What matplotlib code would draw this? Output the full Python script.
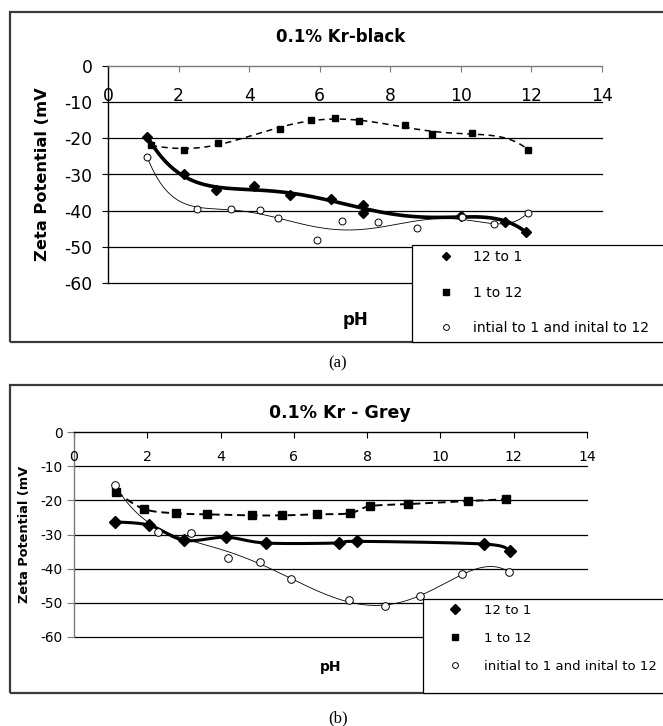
import numpy as np
import matplotlib
matplotlib.use("Agg")
import matplotlib.pyplot as plt
from matplotlib.lines import Line2D
from matplotlib.patches import Rectangle

plt.rcParams['font.family'] = ['DejaVu Sans']
plt.rcParams['axes.unicode_minus'] = False

# ---------------- data ----------------
x_ticks = [0, 2, 4, 6, 8, 10, 12, 14]
y_ticks = [0, -10, -20, -30, -40, -50, -60]

title_a = "0.1% Kr-black"
title_b = "0.1% Kr - Grey"
ylabel = "Zeta Potential (mV"
xlabel = "pH"
labels_a = ["12 to 1", "1 to 12", "intial to 1 and inital to 12"]
labels_b = ["12 to 1", "1 to 12", "initial to 1 and inital to 12"]

a_12to1_ph = [1.11, 2.15, 3.07, 4.15, 5.17, 6.32, 7.22, 7.22, 10.0, 11.25, 11.86]
a_12to1_zeta = [-19.5, -30.0, -34.4, -33.3, -35.7, -36.9, -38.3, -40.6, -41.6, -43.0, -46.0]

a_1to12_ph = [1.22, 2.15, 3.12, 4.87, 5.74, 6.44, 7.10, 8.42, 9.19, 10.32, 11.91]
a_1to12_zeta = [-21.9, -23.2, -21.2, -17.5, -14.9, -14.5, -15.2, -16.4, -18.7, -18.6, -23.2]

a_init_ph = [1.11, 2.52, 3.49, 4.31, 4.83, 5.92, 6.62, 7.64, 8.75, 10.03, 10.95, 11.91]
a_init_zeta = [-25.1, -39.5, -39.5, -39.8, -42.1, -48.1, -42.9, -43.2, -44.7, -41.8, -43.6, -40.6]

b_12to1_ph = [1.12, 2.06, 3.01, 4.15, 5.24, 7.23, 7.73, 11.2, 11.89]
b_12to1_zeta = [-26.3, -27.3, -31.7, -30.8, -32.5, -32.5, -32.0, -32.8, -34.7]

b_1to12_ph = [1.15, 1.90, 2.78, 3.63, 4.85, 5.68, 6.62, 7.52, 8.08, 9.12, 10.75, 11.79]
b_1to12_zeta = [-17.5, -22.5, -23.8, -24.1, -24.4, -24.4, -24.1, -23.8, -21.7, -21.1, -20.2, -19.7]

b_init_ph = [1.12, 2.29, 3.20, 4.20, 5.07, 5.93, 7.50, 8.48, 9.45, 10.59, 11.87]
b_init_zeta = [-15.4, -29.3, -29.5, -37.0, -38.1, -42.9, -49.3, -50.9, -48.1, -41.5, -41.0]

# ---------------- helpers ----------------
W, H = 663, 726
fig = plt.figure(figsize=(W / 100, H / 100), dpi=100)


def fx(px):
    return px / W


def fy(py):
    return 1 - py / H


def poly_trend(x, y, deg=6):
    c = np.polyfit(x, y, deg)
    xs = np.linspace(min(x), max(x), 300)
    return xs, np.polyval(c, xs)


def smooth_path(x, y, n=25):
    p = np.column_stack([x, y]).astype(float)
    pe = np.vstack([p[0], p, p[-1]])
    t = np.linspace(0, 1, n)[:, None]
    out = []
    for i in range(len(p) - 1):
        p0, p1, p2, p3 = pe[i], pe[i + 1], pe[i + 2], pe[i + 3]
        c1 = p1 + (p2 - p0) / 6
        c2 = p2 - (p3 - p1) / 6
        seg = (1 - t) ** 3 * p1 + 3 * (1 - t) ** 2 * t * c1 + 3 * (1 - t) * t ** 2 * c2 + t ** 3 * p2
        out.append(seg if i == 0 else seg[1:])
    out = np.vstack(out)
    return out[:, 0], out[:, 1]


def panel(cfg):
    l, t, r, b = cfg['axes']
    ax = fig.add_axes([fx(l), fy(b), (r - l) / W, (b - t) / H])
    ax.set_xlim(0, 14)
    ax.set_ylim(-60, 0)
    ax.patch.set_alpha(0)
    for s in ['right', 'bottom']:
        ax.spines[s].set_visible(False)
    ax.spines['left'].set_color(cfg['ycol'])
    ax.spines['top'].set_color(cfg['xcol'])
    ax.spines['left'].set_linewidth(1.0)
    ax.spines['top'].set_linewidth(1.0)
    ax.xaxis.set_ticks_position('top')
    ax.set_xticks(x_ticks)
    ax.tick_params(axis='x', direction='in', length=4, labeltop=False, labelbottom=False,
                   color=cfg['xcol'])
    ax.set_yticks(y_ticks)
    ax.set_yticklabels([str(v) for v in y_ticks])
    ax.tick_params(axis='y', direction='out', length=cfg['ytl'], pad=cfg['ypad'],
                   labelsize=cfg['yfs'], color=cfg['ycol'])
    for v in y_ticks:
        if v < 0:
            ax.axhline(v, color='black', lw=0.9, zorder=1, clip_on=False)
    for v in x_ticks:
        ax.text(v, cfg['xlab_y'], str(v), ha='center', va='baseline', fontsize=cfg['xfs'])
    ax.set_title(cfg['title'], x=(cfg['title_xy'][0] - l) / (r - l),
                 y=(b - cfg['title_xy'][1]) / (b - t), va='center', pad=0,
                 fontsize=cfg['tfs'], fontweight='bold')
    ax.set_ylabel(ylabel, fontsize=cfg['ylfs'], fontweight='bold')
    ax.yaxis.label.set_va('center')
    ax.yaxis.set_label_coords((cfg['ylab_x'] - l) / (r - l), 0.5)
    ax.set_xlabel(xlabel, fontsize=cfg['xlfs'], fontweight='bold')
    ax.xaxis.label.set_va('center')
    ax.xaxis.set_label_coords(0.5, (b - cfg['xlab_py']) / (b - t))
    return ax


# ---------------- panel (a) ----------------
cfg_a = dict(axes=(108, 66, 602, 283), xcol='#7a7a7a', ycol='black', ytl=4.3, ypad=7,
             yfs=12.3, xfs=12.3, xlab_y=-9.8, title=title_a, title_xy=(341, 37), tfs=12,
             ylfs=11.7, ylab_x=43, xlfs=12, xlab_py=320)
ax_a = panel(cfg_a)
xs, ys = poly_trend(a_12to1_ph, a_12to1_zeta)
ax_a.plot(xs, ys, color='black', lw=2.6, zorder=3)
ax_a.plot(a_12to1_ph, a_12to1_zeta, ls='none', marker='D', ms=4.6, color='black', zorder=4)
xs, ys = poly_trend(a_1to12_ph, a_1to12_zeta)
ax_a.plot(xs, ys, color='black', lw=1.1, ls=(0, (4, 3)), zorder=3)
ax_a.plot(a_1to12_ph, a_1to12_zeta, ls='none', marker='s', ms=5, color='black', zorder=4)
xs, ys = poly_trend(a_init_ph, a_init_zeta)
ax_a.plot(xs, ys, color='black', lw=0.6, zorder=3)
ax_a.plot(a_init_ph, a_init_zeta, ls='none', marker='o', ms=5, mfc='white', mec='black',
          mew=0.7, zorder=4)

# ---------------- panel (b) ----------------
cfg_b = dict(axes=(74, 432, 587, 637), xcol='black', ycol='#7a7a7a', ytl=5, ypad=3,
             yfs=9.8, xfs=10.2, xlab_y=-8.5, title=title_b, title_xy=(340, 413), tfs=12.5,
             ylfs=9.3, ylab_x=25, xlfs=10, xlab_py=667)
ax_b = panel(cfg_b)
xs, ys = smooth_path(b_12to1_ph, b_12to1_zeta)
ax_b.plot(xs, ys, color='black', lw=2.2, zorder=3)
ax_b.plot(b_12to1_ph, b_12to1_zeta, ls='none', marker='D', ms=6, color='black', zorder=4)
xs, ys = smooth_path(b_1to12_ph, b_1to12_zeta)
ax_b.plot(xs, ys, color='black', lw=1.4, ls=(0, (4, 2.5)), zorder=3)
ax_b.plot(b_1to12_ph, b_1to12_zeta, ls='none', marker='s', ms=5.8, color='black', zorder=4)
xs, ys = poly_trend(b_init_ph, b_init_zeta)
ax_b.plot(xs, ys, color='black', lw=0.6, zorder=3)
ax_b.plot(b_init_ph, b_init_zeta, ls='none', marker='o', ms=5.5, mfc='white', mec='black',
          mew=0.7, zorder=4)

# ---------------- outer boxes ----------------
for (top, bot) in [(12, 342), (385, 693)]:
    fig.add_artist(Rectangle((fx(9.5), fy(bot)), (673 - 9.5) / W, (bot - top) / H,
                             transform=fig.transFigure, fill=False, ec='#3a3a3a', lw=1.6,
                             zorder=2))

# ---------------- legends ----------------
def legend_box(left, top, bottom, labels, fs, ms_d, ms_s, ms_o, lx, ly, tpad, lsp):
    fig.add_artist(Rectangle((fx(left), fy(bottom)), (673 - left) / W, (bottom - top) / H,
                             transform=fig.transFigure, fc='white', ec='black', lw=0.9,
                             zorder=3))
    handles = [Line2D([], [], ls='none', marker='D', ms=ms_d, color='black'),
               Line2D([], [], ls='none', marker='s', ms=ms_s, color='black'),
               Line2D([], [], ls='none', marker='o', ms=ms_o, mfc='white', mec='black',
                      mew=0.7)]
    leg = fig.legend(handles, labels, loc='upper left', bbox_to_anchor=(fx(lx), fy(ly)),
                     bbox_transform=fig.transFigure, frameon=False, fontsize=fs,
                     handlelength=1.0, handletextpad=tpad, labelspacing=lsp,
                     borderaxespad=0, borderpad=0)
    leg.set_zorder(5)


legend_box(412, 245, 342, labels_a, 10, 4.2, 4.5, 4.2, 439, 250, 1.43, 1.56)
legend_box(423, 599, 693, labels_b, 9.5, 5.5, 4.8, 4.2, 448, 604, 1.73, 1.14)

# ---------------- captions ----------------
fig.text(fx(338), fy(363), "(a)", family='Liberation Serif', fontsize=12, ha='center',
         va='center')
fig.text(fx(338), fy(718), "(b)", family='Liberation Serif', fontsize=12, ha='center',
         va='center')

fig.savefig("out.png", dpi=100, facecolor='white')
